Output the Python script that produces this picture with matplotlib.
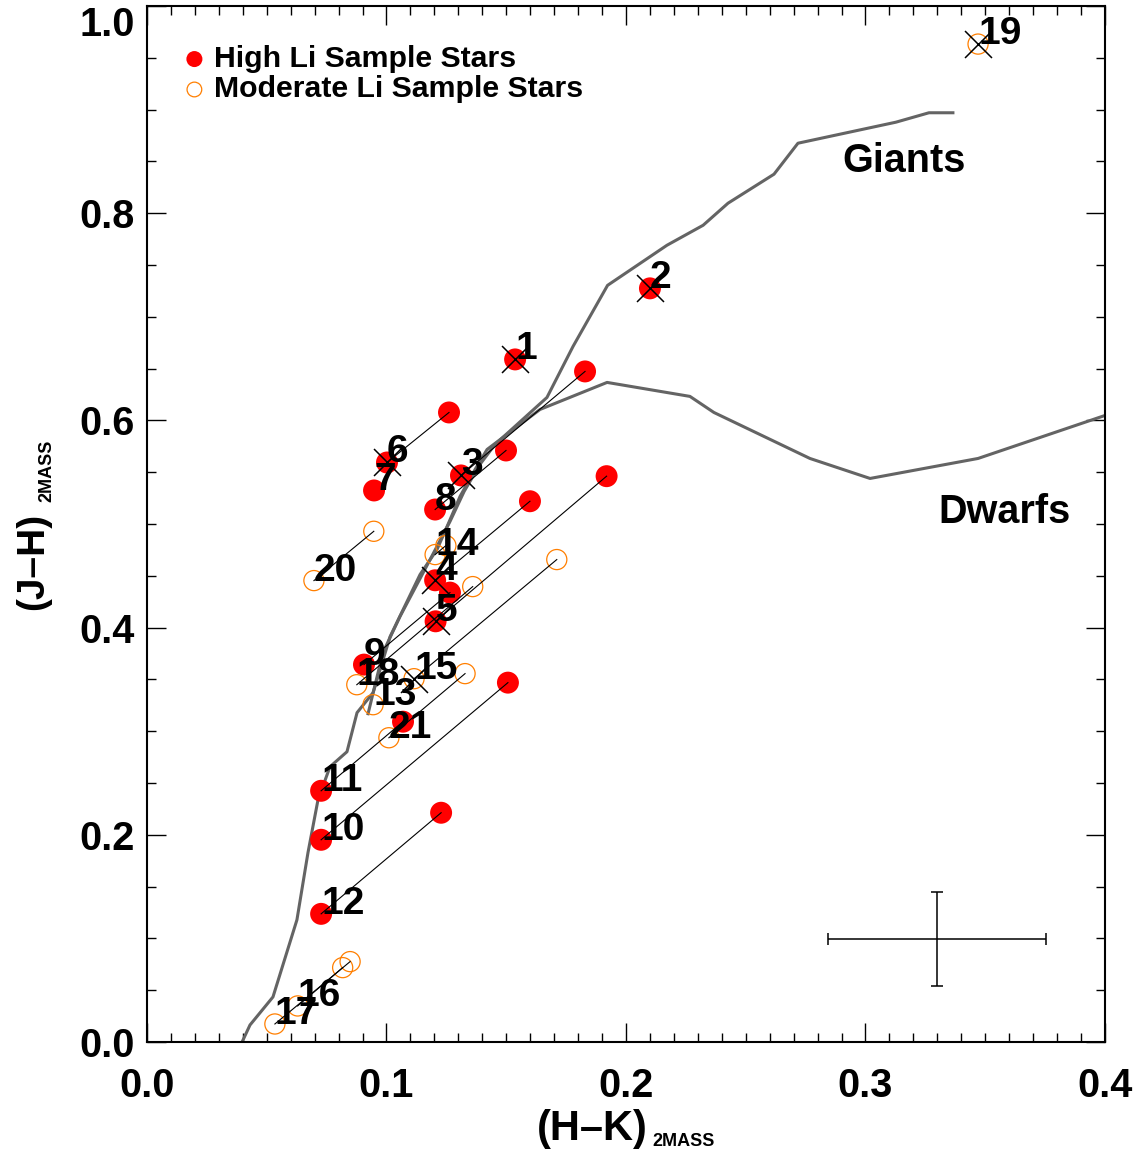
import matplotlib
matplotlib.use('Agg')
import matplotlib.pyplot as plt
from matplotlib.ticker import MultipleLocator, FuncFormatter, FormatStrFormatter

plt.rcParams['font.family'] = ['Liberation Sans', 'DejaVu Sans']
plt.rcParams['font.weight'] = 'bold'

# Sample stars: plotted (H-K, J-H) position, Li class, flag (X), and
# position at the other end of the reddening vector (None = no vector)
ids = ['1', '2', '3', '4', '5', '6', '7', '8', '9', '10', '11',
       '12', '13', '14', '15', '16', '17', '18', '19', '20', '21']
hk = [0.1537, 0.2100, 0.1311, 0.1203, 0.1205, 0.1002, 0.0948, 0.1203, 0.0906, 0.0727, 0.0727,
      0.0727, 0.0944, 0.1203, 0.1115, 0.0629, 0.0534, 0.0876, 0.3470, 0.0697, 0.1010]
jh = [0.6589, 0.7275, 0.5469, 0.4457, 0.4061, 0.5594, 0.5324, 0.5140, 0.3643, 0.1952, 0.2425,
      0.1237, 0.3256, 0.4705, 0.3507, 0.0348, 0.0174, 0.3449, 0.9633, 0.4454, 0.2937]
li_class = ['high'] * 12 + ['mod'] * 9
flagged = [True, True, True, True, True, True, False, False, False, False, False,
           False, False, False, True, False, False, False, True, False, False]
hk_obs = [None, None, 0.1829, 0.1599, 0.1919, 0.1261, None, 0.1499, 0.1265, 0.1507, 0.1069,
          0.1228, None, 0.1248, 0.1711, 0.0817, 0.0848, 0.1360, None, 0.0947, 0.1328]
jh_obs = [None, None, 0.6473, 0.5220, 0.5462, 0.6077, None, 0.5710, 0.4338, 0.3469, 0.3092,
          0.2213, None, 0.4792, 0.4657, 0.0718, 0.0776, 0.4396, None, 0.4930, 0.3556]

# intrinsic sequences
giants_hk = [0.0923, 0.0985, 0.1056, 0.1182, 0.1265, 0.1324, 0.1390, 0.1453, 0.1670, 0.1779,
             0.1923, 0.2171, 0.2322, 0.2426, 0.2618, 0.2718, 0.3127, 0.3265, 0.3365]
giants_jh = [0.3169, 0.3758, 0.4106, 0.4657, 0.5024, 0.5314, 0.5575, 0.5768, 0.6222, 0.6715,
             0.7304, 0.7691, 0.7884, 0.8097, 0.8377, 0.8676, 0.8879, 0.8970, 0.8970]
dwarfs_hk = [0.0397, 0.0430, 0.0526, 0.0626, 0.0672, 0.0714, 0.0764, 0.0835, 0.0877, 0.0944,
             0.1015, 0.1140, 0.1211, 0.1253, 0.1307, 0.1370, 0.1420, 0.1641, 0.1921, 0.2267,
             0.2367, 0.2768, 0.3019, 0.3470, 0.4000]
dwarfs_jh = [0.0000, 0.0164, 0.0435, 0.1179, 0.1826, 0.2338, 0.2657, 0.2802, 0.3179, 0.3372,
             0.3913, 0.4512, 0.4754, 0.4976, 0.5266, 0.5527, 0.5720, 0.6106, 0.6367, 0.6232,
             0.6077, 0.5633, 0.5440, 0.5633, 0.6048]

# typical error
err_hk, err_jh = 0.330, 0.0995
err_size = 0.0455

RED = '#FF0000'
ORANGE = '#FF7F00'

fig = plt.figure(figsize=(11.47, 11.54), dpi=100)
ax = fig.add_axes([0.12816, 0.09705, 0.83522, 0.8977])

ax.plot(giants_hk, giants_jh, color='#646464', lw=2.2, zorder=2)
ax.plot(dwarfs_hk, dwarfs_jh, color='#646464', lw=2.2, zorder=2)

# markers: both ends of every reddening vector
for cls in ['high', 'mod']:
    xs = [x for x, c in zip(hk, li_class) if c == cls]
    ys = [y for y, c in zip(jh, li_class) if c == cls]
    xs += [x for x, c in zip(hk_obs, li_class) if c == cls and x is not None]
    ys += [y for y, c in zip(jh_obs, li_class) if c == cls and y is not None]
    if cls == 'high':
        h_high = ax.scatter(xs, ys, s=250, color=RED, edgecolors='none', zorder=3,
                            label='High Li Sample Stars')
    else:
        h_mod = ax.scatter(xs, ys, s=210, facecolors='none', edgecolors=ORANGE,
                           linewidths=0.9, zorder=3, label='Moderate Li Sample Stars')

# reddening vectors
for x, y, x0, y0 in zip(hk, jh, hk_obs, jh_obs):
    if x0 is not None:
        ax.plot([x0, x], [y0, y], color='k', lw=0.8, zorder=4)

ax.scatter([x for x, f in zip(hk, flagged) if f], [y for y, f in zip(jh, flagged) if f],
           marker='x', s=377, color='k', linewidths=1.1, zorder=5)

for x, y, name in zip(hk, jh, ids):
    ax.text(x, y, name, fontsize=28, fontweight='bold', ha='left', va='baseline', zorder=6)

ax.text(0.2902, 0.840, 'Giants', fontsize=28.5, fontweight='bold', ha='left', va='baseline')
ax.text(0.3305, 0.5014, 'Dwarfs', fontsize=28.5, fontweight='bold', ha='left', va='baseline')

ax.errorbar([err_hk], [err_jh], xerr=err_size, yerr=err_size, fmt='none', ecolor='k',
            elinewidth=1.1, capsize=4.3, capthick=1.1, zorder=3)

ax.legend(handles=[h_high, h_mod], loc='upper left', bbox_to_anchor=(0.040, 0.9624),
          frameon=False, prop={'size': 21.8, 'weight': 'bold'}, markerscale=0.73,
          handlelength=0.6, handletextpad=0.36, labelspacing=0.08, borderpad=0,
          borderaxespad=0)

ax.set_xlim(0, 0.4)
ax.set_ylim(0, 1.0)
ax.xaxis.set_major_locator(MultipleLocator(0.1))
ax.xaxis.set_minor_locator(MultipleLocator(0.01))
ax.yaxis.set_major_locator(MultipleLocator(0.2))
ax.yaxis.set_minor_locator(MultipleLocator(0.05))
ax.xaxis.set_major_formatter(FormatStrFormatter('%.1f'))
# top label 1.0 is drawn separately, hanging below the frame edge
ax.yaxis.set_major_formatter(FuncFormatter(lambda v, p: '' if v > 0.99 else '%.1f' % v))
ax.tick_params(which='both', direction='in', top=True, right=True, labelsize=28.5)
ax.tick_params(which='major', length=13.7, width=1.0)
ax.tick_params(which='minor', length=6.7, width=1.0)
ax.tick_params(axis='x', pad=18)
ax.tick_params(axis='y', pad=8.6)
for sp in ax.spines.values():
    sp.set_linewidth(1.5)

ax.annotate('1.0', xy=(0, 1), xycoords='axes fraction', xytext=(-8.6, 0),
            textcoords='offset points', ha='right', va='top', fontsize=28.5, fontweight='bold')

# axis titles with 2MASS subscripts
fig.text(0.4682, 0.01213, '(H\u2013K)', fontsize=30, fontweight='bold', ha='left', va='baseline')
fig.text(0.5684, 0.00693, '2MASS', fontsize=13, fontweight='bold', ha='left', va='baseline')
fig.text(0.03749, 0.4714, '(J\u2013H)', fontsize=28, fontweight='bold', rotation=90,
         rotation_mode='anchor', ha='left', va='baseline')
fig.text(0.04507, 0.5650, '2MASS', fontsize=13, fontweight='bold', rotation=90,
         rotation_mode='anchor', ha='left', va='baseline')

fig.savefig('out.png', dpi=100)
